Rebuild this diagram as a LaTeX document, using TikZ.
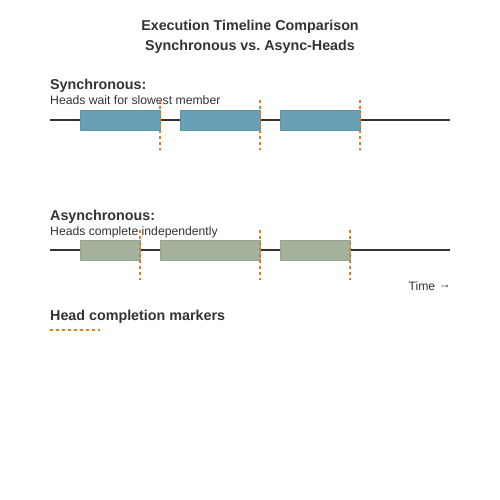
\documentclass[tikz,border=0pt]{standalone}
\usepackage{fontspec}
\setmainfont{Liberation Sans}
\begin{document}
\begin{tikzpicture}[x=1pt,y=-1pt,
  txt/.style={text=textgrey,inner sep=0pt},
  titletxt/.style={txt,font=\fontsize{14.3}{16}\selectfont\bfseries,anchor=base},
  headtxt/.style={txt,font=\fontsize{14.3}{16}\selectfont\bfseries,anchor=base west},
  subtxt/.style={txt,font=\fontsize{12.2}{14}\selectfont,anchor=base west},
  axis/.style={draw=linegrey,line width=2pt},
  syncbox/.style={fill=syncfill,draw=syncdraw,line width=1pt,minimum height=20pt,anchor=north west,inner sep=0pt},
  asyncbox/.style={fill=asyncfill,draw=asyncdraw,line width=1pt,minimum height=20pt,anchor=north west,inner sep=0pt},
  marker/.style={draw=markorange,line width=2pt,dash pattern=on 3pt off 3pt}]
\definecolor{textgrey}{HTML}{333333}
\definecolor{linegrey}{HTML}{333333}
\definecolor{syncfill}{HTML}{6AA0B5}
\definecolor{syncdraw}{HTML}{5F93A7}
\definecolor{asyncfill}{HTML}{A4B19C}
\definecolor{asyncdraw}{HTML}{96A38F}
\definecolor{markorange}{HTML}{E07B2A}
\useasboundingbox[fill=white] (0,0) rectangle (500,500);
% titles
\node[titletxt] (t1) at (250,31) {Execution Timeline Comparison};
\node[titletxt] (t2) at (250,51) {Synchronous vs.\ Async-Heads};
% synchronous
\node[headtxt] (sh) at (50,90) {Synchronous:};
\node[subtxt] (ss) at (50,105) {Heads wait for slowest member};
\coordinate (sa) at (50,120);
\coordinate (sb) at (450,120);
\draw[axis] (sa) -- (sb);
\node[syncbox,minimum width=80pt] (s1) at (80,110) {};
\node[syncbox,minimum width=80pt] (s2) at (180,110) {};
\node[syncbox,minimum width=80pt] (s3) at (280,110) {};
\coordinate (m1a) at (160,100); \coordinate (m1b) at (160,150);
\coordinate (m2a) at (260,100); \coordinate (m2b) at (260,150);
\coordinate (m3a) at (360,100); \coordinate (m3b) at (360,150);
\draw[marker] (m1a) -- (m1b);
\draw[marker] (m2a) -- (m2b);
\draw[marker] (m3a) -- (m3b);
% asynchronous
\node[headtxt] (ah) at (50,220) {Asynchronous:};
\node[subtxt] (as) at (50,235) {Heads complete independently};
\coordinate (aa) at (50,250);
\coordinate (ab) at (450,250);
\draw[axis] (aa) -- (ab);
\node[asyncbox,minimum width=60pt] (a1) at (80,240) {};
\node[asyncbox,minimum width=100pt] (a2) at (160,240) {};
\node[asyncbox,minimum width=70pt] (a3) at (280,240) {};
\coordinate (n1a) at (140,230); \coordinate (n1b) at (140,280);
\coordinate (n2a) at (260,230); \coordinate (n2b) at (260,280);
\coordinate (n3a) at (350,230); \coordinate (n3b) at (350,280);
\draw[marker] (n1a) -- (n1b);
\draw[marker] (n2a) -- (n2b);
\draw[marker] (n3a) -- (n3b);
\node[subtxt,anchor=base east] (time) at (451,290) {Time \raisebox{2pt}{→}};
% legend
\node[headtxt] (lg) at (50,320) {Head completion markers};
\coordinate (la) at (50,330); \coordinate (lb) at (100,330);
\draw[marker] (la) -- (lb);
\end{tikzpicture}
\end{document}
